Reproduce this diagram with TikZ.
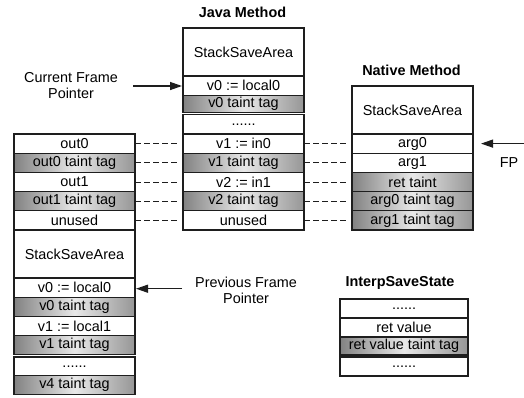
\documentclass[tikz,border=0pt]{standalone}
\usepackage{fontspec}
\setmainfont{Liberation Sans}
\usetikzlibrary{arrows.meta}
\newcommand\mycellfont{\fontsize{14.4}{16}\selectfont}
\newcommand\mytitlefont{\fontsize{14.4}{16}\selectfont\bfseries}
\definecolor{linec}{RGB}{30,30,30}
\definecolor{shL}{RGB}{130,130,130}
\definecolor{shM}{RGB}{232,232,232}
\definecolor{shR}{RGB}{150,150,150}
\tikzset{
  cell/.style={draw=linec, line width=1.3pt, minimum width=121pt, minimum height=19.2pt,
    inner sep=0pt, outer sep=0pt, font=\mycellfont, text=black},
  tagcell/.style={cell, left color=shL, right color=shR, middle color=shM},
  bigcell/.style={cell, minimum height=48pt},
  ttl/.style={font=\mytitlefont, inner sep=0pt},
  lbl/.style={font=\mycellfont, align=center, inner sep=0pt},
  dline/.style={draw=linec, line width=1pt, dash pattern=on 5.5pt off 3.5pt},
  ptr/.style={draw=linec, line width=1.3pt, -{Triangle[length=12pt,width=8pt]}}
}
\begin{document}
\begin{tikzpicture}[x=1pt,y=-1pt]
\useasboundingbox (0,0) rectangle (524,397);
% titles
\node[ttl] (tj) at (242.5,12) {Java Method};
\node[ttl] (tn) at (411.5,70) {Native Method};
\node[ttl] (ti) at (400,283) {InterpSaveState};
% left column
\node[cell] (L1) at (74.5,143.6) {out0};
\node[tagcell] (L2) at (74.5,162.8) {out0 taint tag};
\node[cell] (L3) at (74.5,182) {out1};
\node[tagcell] (L4) at (74.5,201.2) {out1 taint tag};
\node[cell] (L5) at (74.5,220.4) {unused};
\node[bigcell] (L6) at (74.5,254) {StackSaveArea};
\node[cell] (L7) at (74.5,287.6) {v0 := local0};
\node[tagcell] (L8) at (74.5,306.8) {v0 taint tag};
\node[cell] (L9) at (74.5,326) {v1 := local1};
\node[tagcell] (L10) at (74.5,345.2) {v1 taint tag};
\node[cell, minimum height=18.6pt] (L11) at (74.5,366.3) {......};
\node[tagcell] (L12) at (74.5,385.2) {v4 taint tag};
% java column
\node[bigcell] (J0) at (243.5,52) {StackSaveArea};
\node[cell] (J1) at (243.5,85.6) {v0 := local0};
\node[tagcell, minimum height=17pt] (J2) at (243.5,103.7) {v0 taint tag};
\node[cell, minimum height=19.4pt] (J3) at (243.5,124.3) {......};
\node[cell] (J4) at (243.5,143.6) {v1 := in0};
\node[tagcell] (J5) at (243.5,162.8) {v1 taint tag};
\node[cell] (J6) at (243.5,182) {v2 := in1};
\node[tagcell] (J7) at (243.5,201.2) {v2 taint tag};
\node[cell] (J8) at (243.5,220.4) {unused};
% native column
\node[bigcell] (N0) at (412.5,110) {StackSaveArea};
\node[cell] (N1) at (412.5,143.6) {arg0};
\node[cell] (N2) at (412.5,162.8) {arg1};
\node[tagcell] (N3) at (412.5,182) {ret taint};
\node[tagcell] (N4) at (412.5,201.2) {arg0 taint tag};
\node[tagcell] (N5) at (412.5,220.4) {arg1 taint tag};
% interp save state
\node[cell, minimum width=128pt] (I1) at (404,308.5) {......};
\node[cell, minimum width=128pt] (I2) at (404,327.5) {ret value};
\node[tagcell, minimum width=128pt, minimum height=18pt] (I3) at (404,346) {ret value taint tag};
\node[cell, minimum width=128pt] (I4) at (404,366.5) {......};
% dashed links
\foreach \a/\b in {L1/J4,L2/J5,L3/J6,L4/J7,L5/J8}
  \draw[dline] (\a.east) -- ([xshift=-4.5pt]\b.west);
\foreach \a/\b in {J4/N1,J5/N2,J6/N3,J7/N4,J8/N5}
  \draw[dline] (\a.east) -- ([xshift=-4.5pt]\b.west);
% pointers
\node[lbl] (cfp) at (71,86) {Current Frame\\Pointer};
\coordinate (cfs) at (133,86);
\draw[ptr] (cfs) -- ([xshift=-1pt]J1.west |- cfs);
\node[lbl] (fp) at (509,163) {FP};
\coordinate (fps) at (524,143.6);
\draw[ptr] (fps) -- ([xshift=8pt]N1.east);
\node[lbl] (pfp) at (246,290) {Previous Frame\\Pointer};
\coordinate (pfs) at (182,288.7);
\draw[ptr] (pfs) -- ([xshift=1pt]L7.east |- pfs);
\end{tikzpicture}
\end{document}
